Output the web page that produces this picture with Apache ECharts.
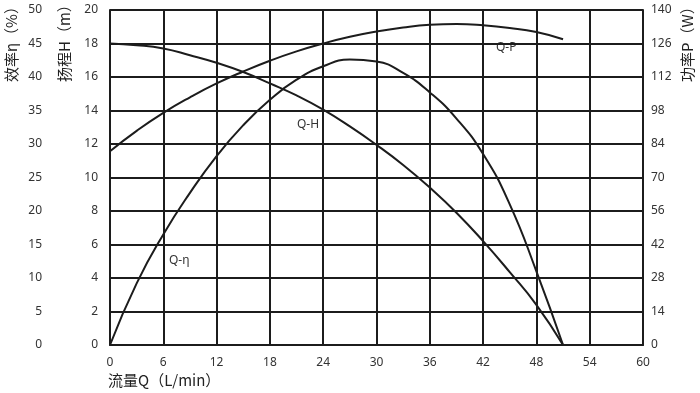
<!DOCTYPE html>
<html><head><meta charset="utf-8">
<script src="https://cdn.jsdelivr.net/npm/echarts@6/dist/echarts.min.js"></script>
<style>html,body{margin:0;padding:0;background:#fff}#c{width:700px;height:393px}</style>
</head><body><div id="c"></div>
<script>
// Flow (L/min) vs head H (m)
const qhQ = [0, 3, 6, 9, 12, 15, 18, 21, 24, 27, 30, 33, 36, 39, 42, 45, 48, 51];
const qhH = [18, 17.9, 17.7, 17.3, 16.85, 16.3, 15.62, 14.9, 14.05, 13.05, 11.95, 10.75, 9.4, 7.9, 6.2, 4.35, 2.4, 0];
// Flow vs efficiency η (%)
const qeQ = [0, 3, 6, 9, 12, 15, 18, 21, 24, 27, 30, 33, 36, 39, 42, 45, 48, 51];
const qeE = [0, 9.2, 16.5, 22.7, 28.2, 32.8, 36.6, 39.6, 41.6, 42.6, 42.3, 40.6, 37.7, 33.8, 28.5, 21, 11, 0];
// Flow vs power P (W)
const qpQ = [0, 3, 6, 9, 12, 15, 18, 21, 24, 27, 30, 33, 36, 39, 42, 45, 48, 51];
const qpP = [81, 89.5, 97, 103.5, 109.3, 114.3, 118.8, 122.7, 126, 128.8, 131, 132.7, 133.8, 134.1, 133.6, 132.5, 130.8, 127.8];
// Axis ticks
const xTicks = [0, 6, 12, 18, 24, 30, 36, 42, 48, 54, 60];
const hTicks = [0, 2, 4, 6, 8, 10, 12, 14, 16, 18, 20];
const eTicks = [0, 5, 10, 15, 20, 25, 30, 35, 40, 45, 50];
const pTicks = [0, 14, 28, 42, 56, 70, 84, 98, 112, 126, 140];

const pair = (a, b) => a.map((v, i) => [v, b[i]]);
const lineCol = '#1c1c1c';
const txt = '#333';
const numFont = 'Noto Sans';
const cjk = '"Noto Sans CJK SC"';

const chart = echarts.init(document.getElementById('c'));
chart.setOption({
  animation: false,
  backgroundColor: '#fff',
  grid: { left: 110, right: 57, top: 10, bottom: 48, show: false },
  xAxis: {
    type: 'value', min: xTicks[0], max: xTicks[xTicks.length - 1], interval: xTicks[1] - xTicks[0],
    axisLine: { show: true, onZero: false, lineStyle: { color: lineCol, width: 2 } },
    axisTick: { show: false },
    splitLine: { show: true, lineStyle: { color: lineCol, width: 2 } },
    axisLabel: { color: txt, fontSize: 12, fontFamily: numFont, margin: 12 }
  },
  yAxis: [
    {
      type: 'value', min: hTicks[0], max: hTicks[hTicks.length - 1], interval: hTicks[1] - hTicks[0], position: 'left',
      axisLine: { show: true, lineStyle: { color: lineCol, width: 2 } },
      axisTick: { show: false },
      splitLine: { show: true, lineStyle: { color: lineCol, width: 2 } },
      axisLabel: { color: txt, fontSize: 12, fontFamily: numFont, margin: 12 }
    },
    {
      type: 'value', min: eTicks[0], max: eTicks[eTicks.length - 1], interval: eTicks[1] - eTicks[0], position: 'left', offset: 56,
      axisLine: { show: false }, axisTick: { show: false }, splitLine: { show: false },
      axisLabel: { color: txt, fontSize: 12, fontFamily: numFont, margin: 12 }
    },
    {
      type: 'value', min: pTicks[0], max: pTicks[pTicks.length - 1], interval: pTicks[1] - pTicks[0], position: 'right',
      axisLine: { show: true, lineStyle: { color: lineCol, width: 2 } },
      axisTick: { show: false }, splitLine: { show: false },
      axisLabel: { color: txt, fontSize: 12, fontFamily: numFont, margin: 8 }
    }
  ],
  series: [
    { name: 'Q-H', type: 'line', yAxisIndex: 0, data: pair(qhQ, qhH), smooth: 0.5, showSymbol: false, lineStyle: { color: lineCol, width: 2 } },
    { name: 'Q-η', type: 'line', yAxisIndex: 1, data: pair(qeQ, qeE), smooth: 0.5, showSymbol: false, lineStyle: { color: lineCol, width: 2 } },
    { name: 'Q-P', type: 'line', yAxisIndex: 2, data: pair(qpQ, qpP), smooth: 0.5, showSymbol: false, lineStyle: { color: lineCol, width: 2 } }
  ],
  graphic: [
    { type: 'text', left: 297, top: 119, style: { text: 'Q-H', fill: txt, font: '12px ' + numFont } },
    { type: 'text', left: 496, top: 42, style: { text: 'Q-P', fill: txt, font: '12px ' + numFont } },
    { type: 'text', left: 169, top: 255, style: { text: 'Q-η', fill: txt, font: '12px ' + numFont } },
    { type: 'text', x: 108, y: 373, style: { text: '流量Q（L/min）', fill: '#222', font: '15px ' + cjk } },
    { type: 'text', x: 4, y: 82, rotation: Math.PI / 2, style: { text: '效率η（%）', fill: '#222', font: '15px ' + cjk } },
    { type: 'text', x: 57, y: 82, rotation: Math.PI / 2, style: { text: '扬程H（m）', fill: '#222', font: '15px ' + cjk } },
    { type: 'text', x: 680, y: 82, rotation: Math.PI / 2, style: { text: '功率P（W）', fill: '#222', font: '15px ' + cjk } }
  ]
});
</script>
</body></html>
